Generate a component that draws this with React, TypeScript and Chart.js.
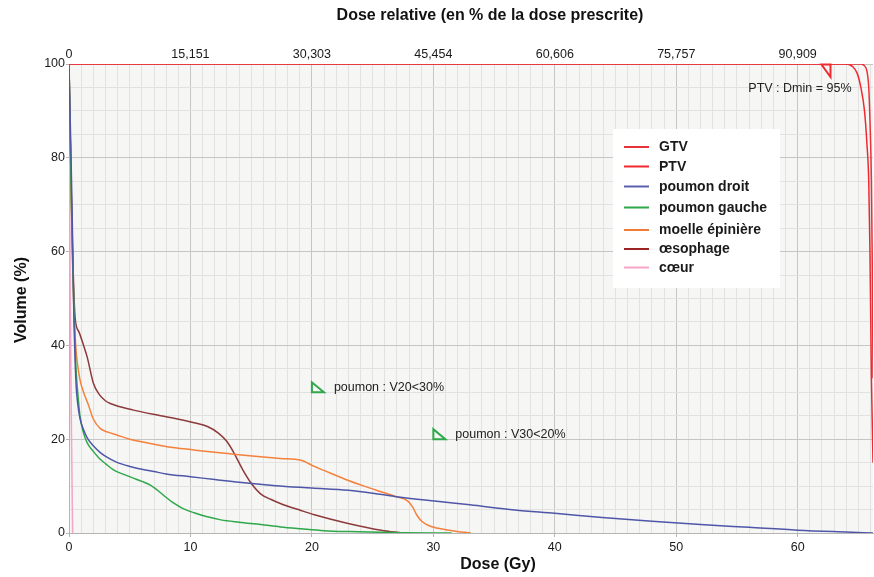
import React, { useEffect, useRef } from 'react';
import { Chart, registerables } from 'chart.js';

Chart.register(...registerables);

const FONT = '"Liberation Sans", Arial, Helvetica, sans-serif';

// Axis ticks
const doseMajorTicks = [0, 10, 20, 30, 40, 50, 60];
const relativeDoseLabels = ['0', '15,151', '30,303', '45,454', '60,606', '75,757', '90,909'];
const volumeMajorTicks = [0, 20, 40, 60, 80, 100];
const DOSE_MAX = 66.2;

// Series
const seriesNames = ['GTV', 'PTV', 'poumon droit', 'poumon gauche', 'moelle épinière', 'œsophage', 'cœur'];
const seriesColors = ['#e8323a', '#ee2a30', '#4f56a8', '#2ea84a', '#f4813c', '#8c3a3a', '#f4a5c8'];
const legendColors = ['#e8323a', '#ee2a30', '#5a5fae', '#2ea84a', '#f07b3a', '#9b2424', '#f4a5c8'];

const gtvDose = [0, 65.2, 65.5, 65.7, 65.85, 65.95, 66.07, 66.15, 66.2, 66.3, 66.5];
const gtvVolume = [100, 100, 99.6, 98.5, 95, 88, 75, 55, 33, 15, 0];

const ptvDose = [0, 63.9, 64.5, 64.9, 65.2, 65.5, 65.7, 65.85, 65.95, 66.07, 66.2, 66.4, 66.6];
const ptvVolume = [100, 100, 99.5, 98, 95, 90, 83, 75, 60, 33, 15, 3, 0];

const poumonDroitDose = [0, 0.1, 0.2, 0.3, 0.36, 0.42, 0.5, 0.6, 0.7, 0.9, 1.2, 1.5, 2, 2.6, 3.3, 4, 5, 6, 7, 8, 10, 12, 14, 17, 20, 23, 25, 26.8, 30.1, 33, 36.7, 40, 43.9, 48, 52, 56, 60, 64, 66.2];
const poumonDroitVolume = [100, 88, 76, 62, 52, 44, 37, 31, 28, 24.5, 22, 20.3, 18.6, 17.1, 15.9, 15, 14.2, 13.6, 13.1, 12.6, 12, 11.4, 10.8, 10.1, 9.6, 9.1, 8.5, 7.8, 6.8, 6, 4.9, 4.2, 3.3, 2.5, 1.8, 1.2, 0.6, 0.2, 0];

const poumonGaucheDose = [0, 0.1, 0.2, 0.3, 0.4, 0.5, 0.6, 0.75, 0.9, 1.2, 1.5, 2, 2.5, 3, 3.7, 4.5, 5.3, 6, 6.7, 7.2, 7.8, 8.6, 9.4, 10.3, 11.3, 12.5, 14, 15.8, 17.4, 19.1, 21, 23, 27.4, 31.5];
const poumonGaucheVolume = [100, 85, 70, 58, 49, 40, 34, 29, 25, 21.3, 19.2, 17.4, 15.9, 14.8, 13.4, 12.5, 11.7, 11, 10.2, 9.3, 8, 6.4, 5.2, 4.3, 3.5, 2.8, 2.3, 1.8, 1.3, 0.9, 0.5, 0.3, 0.05, 0];

const moelleDose = [0, 0.1, 0.2, 0.3, 0.4, 0.55, 0.7, 0.91, 1.2, 1.6, 2, 2.56, 3.2, 3.94, 5, 5.87, 7, 8.07, 10.3, 12, 13.6, 16, 17.4, 19.1, 20.2, 21.5, 22.9, 24.3, 25.7, 27, 27.9, 28.3, 28.6, 29, 29.6, 30.4, 31.5, 33.1];
const moelleVolume = [100, 85, 70, 57, 48, 40, 36, 32.6, 30, 27.3, 24.3, 22.3, 21.5, 20.9, 20, 19.5, 18.9, 18.4, 17.7, 17.2, 16.8, 16.2, 15.9, 15.5, 14.2, 12.8, 11.3, 10, 8.8, 7.7, 6.8, 5.5, 4, 2.6, 1.6, 1, 0.5, 0];

const oesophageDose = [0, 0.1, 0.25, 0.5, 0.8, 1.2, 1.5, 2, 2.5, 3, 3.4, 5.3, 8, 10.3, 11.4, 12.3, 13, 13.6, 14.3, 15, 15.8, 16.6, 17.4, 19.1, 20.2, 22.9, 25.7, 27.4];
const oesophageVolume = [100, 85, 65, 46, 43, 40, 37.5, 32, 29.5, 28.2, 27.6, 26.2, 24.8, 23.5, 22.7, 21.3, 19.5, 17, 13.5, 10.6, 8.3, 7.2, 6.3, 4.8, 3.9, 2.1, 0.6, 0];

const coeurDose = [0, 0.05, 0.1, 0.2, 0.3];
const coeurVolume = [100, 75, 50, 22, 0];

const seriesDoses = [gtvDose, ptvDose, poumonDroitDose, poumonGaucheDose, moelleDose, oesophageDose, coeurDose];
const seriesVolumes = [gtvVolume, ptvVolume, poumonDroitVolume, poumonGaucheVolume, moelleVolume, oesophageVolume, coeurVolume];

// Constraint annotations (dose Gy, volume %)
const constraintLabels = ['PTV : Dmin = 95%', 'poumon : V20<30%', 'poumon : V30<20%'];
const constraintDoses = [62.7, 20, 30];
const constraintVolumes = [100, 30, 20];
const constraintColors = ['#ee2a30', '#2ea84a', '#2ea84a'];

export default function App() {
  const canvasRef = useRef<HTMLCanvasElement | null>(null);

  useEffect(() => {
    const canvas = canvasRef.current;
    if (!canvas) return;

    const datasets = seriesNames.map((name, i) => ({
      label: name,
      data: seriesDoses[i].map((d, j) => ({ x: d, y: seriesVolumes[i][j] })),
      borderColor: seriesColors[i],
      backgroundColor: seriesColors[i],
      borderWidth: 1.5,
      pointRadius: 0,
      fill: false,
      cubicInterpolationMode: 'monotone' as const,
      xAxisID: 'x',
      yAxisID: 'y',
    }));

    const bgPlugin = {
      id: 'plotBg',
      beforeDraw(chart: any) {
        const { ctx, chartArea } = chart;
        ctx.save();
        ctx.fillStyle = '#ffffff';
        ctx.fillRect(0, 0, chart.width, chart.height);
        ctx.fillStyle = '#f6f6f4';
        ctx.fillRect(chartArea.left, chartArea.top, chartArea.right - chartArea.left, chartArea.bottom - chartArea.top);
        ctx.restore();
      },
    };

    const overlayPlugin = {
      id: 'overlay',
      afterDraw(chart: any) {
        const { ctx } = chart;
        const xs = chart.scales.x;
        const ys = chart.scales.y;
        ctx.save();

        // Titles
        ctx.fillStyle = '#111';
        ctx.textAlign = 'center';
        ctx.textBaseline = 'middle';
        ctx.font = `bold 16px ${FONT}`;
        ctx.fillText('Dose relative (en % de la dose prescrite)', 490, 16);
        ctx.fillText('Dose (Gy)', 498, 565);
        ctx.save();
        ctx.translate(22, 300);
        ctx.rotate(-Math.PI / 2);
        ctx.fillText('Volume (%)', 0, 0);
        ctx.restore();

        // Constraint markers
        ctx.lineWidth = 2;
        ctx.lineJoin = 'miter';
        constraintLabels.forEach((label, i) => {
          const px = xs.getPixelForValue(constraintDoses[i]);
          const py = ys.getPixelForValue(constraintVolumes[i]);
          ctx.strokeStyle = constraintColors[i];
          ctx.beginPath();
          if (i === 0) {
            ctx.moveTo(px - 9, py + 0.5);
            ctx.lineTo(px, py + 0.5);
            ctx.lineTo(px, py + 13);
            ctx.closePath();
          } else {
            ctx.moveTo(px, py - 10);
            ctx.lineTo(px, py);
            ctx.lineTo(px + 12, py);
            ctx.closePath();
          }
          ctx.stroke();
          ctx.fillStyle = '#222';
          ctx.font = `12.5px ${FONT}`;
          ctx.textBaseline = 'middle';
          if (i === 0) {
            ctx.textAlign = 'right';
            ctx.fillText(label, px + 21, py + 25);
          } else {
            ctx.textAlign = 'left';
            ctx.fillText(label, px + 22, py - 5);
          }
        });

        // Legend
        const lx = 613, ly = 129, lw = 167, lh = 159;
        ctx.fillStyle = '#ffffff';
        ctx.fillRect(lx, ly, lw, lh);
        const rowY = [147, 166.5, 186.5, 207.5, 230, 249, 267.5];
        ctx.font = `bold 14px ${FONT}`;
        ctx.textAlign = 'left';
        ctx.textBaseline = 'middle';
        seriesNames.forEach((name, i) => {
          ctx.strokeStyle = legendColors[i];
          ctx.lineWidth = 2;
          ctx.beginPath();
          ctx.moveTo(624, rowY[i]);
          ctx.lineTo(649, rowY[i]);
          ctx.stroke();
          ctx.fillStyle = '#1a1a1a';
          ctx.fillText(name, 659, rowY[i] + 0.5);
        });
        ctx.restore();
      },
    };

    const tickFont = { family: FONT, size: 12.5 };
    const majorGrid = '#c6c6c6';
    const minorGrid = '#e2e2e2';

    const chart = new Chart(canvas, {
      type: 'line',
      data: { datasets },
      options: {
        animation: false,
        responsive: false,
        events: [],
        layout: { padding: { left: 0, right: 1, top: 0, bottom: 0 } },
        plugins: { legend: { display: false }, tooltip: { enabled: false }, title: { display: false } },
        scales: {
          x: {
            type: 'linear',
            position: 'bottom',
            min: 0,
            max: DOSE_MAX,
            afterBuildTicks: (s: any) => {
              const t: any[] = [];
              for (let v = 0; v <= Math.floor(DOSE_MAX); v++) t.push({ value: v });
              s.ticks = t;
            },
            afterFit: (s: any) => { s.height = 44; },
            ticks: {
              autoSkip: false,
              maxRotation: 0,
              padding: 3,
              color: '#1a1a1a',
              font: tickFont,
              callback: (v: any) => (doseMajorTicks.includes(Number(v)) ? String(v) : ''),
            },
            grid: {
              color: (c: any) => (c.tick && c.tick.value % 10 === 0 ? majorGrid : minorGrid),
              tickColor: (c: any) => (c.tick && c.tick.value % 10 === 0 ? '#b5b5b5' : 'rgba(0,0,0,0)'),
              tickLength: 4,
              lineWidth: 1,
            },
            border: { color: '#b5b5b5' },
          },
          x2: {
            type: 'linear',
            position: 'top',
            min: 0,
            max: DOSE_MAX,
            afterBuildTicks: (s: any) => { s.ticks = doseMajorTicks.map((v) => ({ value: v })); },
            afterFit: (s: any) => { s.height = 64; },
            ticks: {
              autoSkip: false,
              maxRotation: 0,
              padding: 2,
              color: '#1a1a1a',
              font: tickFont,
              callback: (v: any) => {
                const k = doseMajorTicks.indexOf(Number(v));
                return k >= 0 ? relativeDoseLabels[k] : '';
              },
            },
            grid: { drawOnChartArea: false, drawTicks: false },
            border: { display: false },
          },
          y: {
            type: 'linear',
            min: 0,
            max: 100,
            afterBuildTicks: (s: any) => {
              const t: any[] = [];
              for (let v = 0; v <= 100; v += 5) t.push({ value: v });
              s.ticks = t;
            },
            afterFit: (s: any) => { s.width = 69; },
            ticks: {
              autoSkip: false,
              padding: 1,
              color: '#1a1a1a',
              font: tickFont,
              callback: (v: any) => (volumeMajorTicks.includes(Number(v)) ? String(v) : ''),
            },
            grid: {
              color: (c: any) => (c.tick && c.tick.value % 20 === 0 ? majorGrid : minorGrid),
              tickColor: (c: any) => (c.tick && c.tick.value % 20 === 0 ? '#b5b5b5' : 'rgba(0,0,0,0)'),
              tickLength: 3,
              lineWidth: 1,
            },
            border: { color: '#b5b5b5' },
          },
        },
      },
      plugins: [bgPlugin, overlayPlugin],
    } as any);

    return () => chart.destroy();
  }, []);

  return (
    <div style={{ position: 'absolute', left: 0, top: 0, width: 874, height: 577, background: '#fff' }}>
      <canvas ref={canvasRef} width={874} height={577} style={{ display: 'block', width: 874, height: 577 }} />
    </div>
  );
}
